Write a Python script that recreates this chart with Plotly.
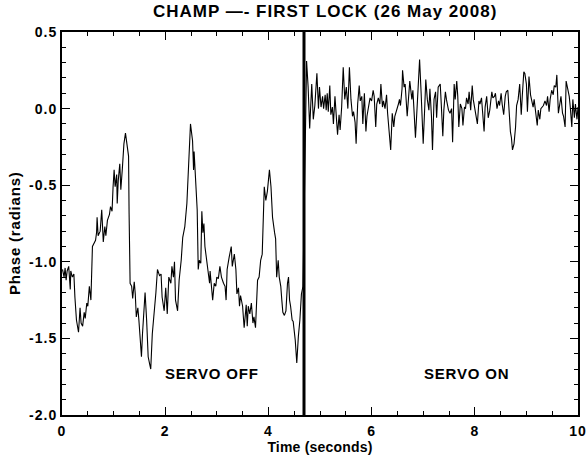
import plotly.graph_objects as go

# Phase record before the servo loop is closed (time in s, phase in rad)
t_off = [0.01, 0.04, 0.06, 0.08, 0.10, 0.13, 0.16, 0.17, 0.20, 0.23, 0.25, 0.28, 0.32, 0.35,
         0.37, 0.40, 0.43, 0.45, 0.48, 0.50, 0.53, 0.56, 0.59, 0.62, 0.65, 0.67, 0.68, 0.70,
         0.74, 0.77, 0.80, 0.83, 0.85, 0.88, 0.92, 0.94, 0.97, 0.99, 1.01, 1.03, 1.06, 1.07,
         1.09, 1.12, 1.14, 1.17, 1.20, 1.23, 1.25, 1.29, 1.30, 1.32, 1.35, 1.37, 1.40, 1.42,
         1.44, 1.47, 1.49, 1.51, 1.54, 1.56, 1.59, 1.61, 1.64, 1.67, 1.70, 1.72, 1.75, 1.78,
         1.82, 1.85, 1.89, 1.92, 1.94, 1.98, 2.01, 2.04, 2.07, 2.11, 2.13, 2.16, 2.18, 2.20,
         2.24, 2.27, 2.31, 2.34, 2.38, 2.42, 2.45, 2.49, 2.53, 2.55, 2.56, 2.59, 2.62, 2.64,
         2.66, 2.69, 2.71, 2.73, 2.75, 2.77, 2.80, 2.84, 2.86, 2.87, 2.90, 2.92, 2.95, 2.98,
         3.00, 3.03, 3.06, 3.09, 3.13, 3.16, 3.18, 3.20, 3.24, 3.28, 3.30, 3.34, 3.37, 3.39,
         3.42, 3.44, 3.46, 3.50, 3.53, 3.57, 3.59, 3.61, 3.64, 3.67, 3.70, 3.72, 3.75, 3.77,
         3.79, 3.82, 3.85, 3.88, 3.90, 3.92, 3.95, 3.98, 4.00, 4.02, 4.05, 4.08, 4.12, 4.14,
         4.16, 4.19, 4.21, 4.24, 4.26, 4.28, 4.31, 4.34, 4.37, 4.39, 4.41, 4.43, 4.46, 4.48,
         4.52, 4.55, 4.58, 4.61, 4.64, 4.67]
phase_off = [-1.05, -1.10, -1.04, -1.12, -1.06, -1.03, -1.18, -1.06, -1.10, -1.08, -1.23, -1.38, -1.46, -1.30,
             -1.40, -1.42, -1.33, -1.37, -1.27, -1.29, -1.16, -1.25, -0.90, -0.88, -0.86, -0.81, -0.71, -0.83,
             -0.80, -0.66, -0.87, -0.77, -0.83, -0.73, -0.69, -0.64, -0.67, -0.51, -0.40, -0.51, -0.43, -0.62,
             -0.47, -0.36, -0.53, -0.39, -0.23, -0.16, -0.21, -0.31, -0.68, -1.14, -1.16, -1.24, -1.13, -1.21,
             -1.36, -1.30, -1.38, -1.49, -1.62, -1.47, -1.29, -1.20, -1.38, -1.62, -1.67, -1.70, -1.47, -1.36,
             -1.20, -1.05, -1.09, -1.08, -1.23, -1.32, -1.17, -1.34, -1.10, -1.14, -1.03, -1.10, -1.00, -1.25,
             -1.32, -1.12, -0.99, -0.84, -0.77, -0.62, -0.34, -0.10, -0.21, -0.40, -0.28, -0.47, -0.66, -1.05,
             -0.99, -1.01, -0.67, -0.81, -0.75, -0.90, -0.97, -1.06, -1.14, -1.06, -1.18, -1.25, -1.14, -1.16,
             -1.10, -1.11, -1.03, -1.10, -1.14, -1.16, -1.25, -1.05, -0.97, -0.90, -1.03, -0.95, -1.05, -1.21,
             -1.17, -1.29, -1.22, -1.29, -1.43, -1.28, -1.42, -1.29, -1.34, -1.27, -1.40, -1.36, -1.43, -1.29,
             -1.12, -1.10, -0.99, -0.95, -0.62, -0.51, -0.60, -0.54, -0.47, -0.40, -0.51, -0.71, -0.81, -0.85,
             -1.10, -0.99, -1.10, -1.16, -1.25, -1.33, -1.35, -1.32, -1.14, -1.10, -1.25, -1.29, -1.38, -1.39,
             -1.51, -1.66, -1.49, -1.38, -1.21, -1.16]

# Phase record once the servo loop is locked
t_on = [4.74, 4.77, 4.80, 4.84, 4.87, 4.90, 4.94, 4.97, 4.99, 5.02, 5.05, 5.07, 5.10, 5.12,
        5.14, 5.16, 5.19, 5.21, 5.24, 5.26, 5.29, 5.31, 5.34, 5.37, 5.39, 5.42, 5.45, 5.48,
        5.51, 5.54, 5.57, 5.60, 5.63, 5.65, 5.68, 5.70, 5.73, 5.76, 5.78, 5.81, 5.83, 5.86,
        5.89, 5.91, 5.94, 5.97, 6.00, 6.03, 6.05, 6.08, 6.10, 6.13, 6.16, 6.18, 6.21, 6.23,
        6.26, 6.29, 6.31, 6.34, 6.37, 6.40, 6.43, 6.45, 6.49, 6.52, 6.54, 6.56, 6.59, 6.60,
        6.63, 6.65, 6.69, 6.72, 6.74, 6.78, 6.80, 6.82, 6.85, 6.89, 6.91, 6.93, 6.96, 6.98,
        7.00, 7.03, 7.05, 7.08, 7.11, 7.13, 7.16, 7.18, 7.21, 7.24, 7.26, 7.29, 7.33, 7.35,
        7.38, 7.40, 7.43, 7.45, 7.49, 7.52, 7.55, 7.57, 7.60, 7.62, 7.65, 7.67, 7.69, 7.72,
        7.75, 7.77, 7.80, 7.82, 7.84, 7.87, 7.89, 7.92, 7.95, 7.97, 8.00, 8.02, 8.05, 8.08,
        8.10, 8.13, 8.15, 8.18, 8.20, 8.23, 8.26, 8.29, 8.33, 8.35, 8.38, 8.40, 8.43, 8.46,
        8.48, 8.51, 8.53, 8.56, 8.59, 8.61, 8.64, 8.66, 8.69, 8.71, 8.73, 8.76, 8.79, 8.81,
        8.84, 8.87, 8.90, 8.92, 8.95, 8.97, 9.00, 9.02, 9.05, 9.08, 9.10, 9.13, 9.15, 9.18,
        9.21, 9.23, 9.26, 9.28, 9.31, 9.33, 9.36, 9.39, 9.41, 9.44, 9.46, 9.49, 9.52, 9.54,
        9.57, 9.59, 9.62, 9.64, 9.67, 9.70, 9.72, 9.75, 9.77, 9.80, 9.83, 9.85, 9.88, 9.90,
        9.93, 9.95, 9.98, 10.00]
phase_on = [0.31, 0.14, -0.13, 0.16, -0.07, 0.02, 0.23, 0.00, 0.14, 0.01, 0.08, 0.00, 0.09, -0.01,
            0.10, -0.02, 0.15, -0.04, 0.01, -0.10, 0.08, -0.05, -0.17, -0.04, -0.14, 0.01, 0.27, 0.06,
            0.14, 0.00, 0.27, 0.06, -0.05, -0.02, -0.09, -0.23, 0.03, 0.15, 0.05, 0.08, -0.10, 0.10,
            -0.15, -0.05, 0.00, 0.07, 0.05, 0.12, 0.08, -0.12, 0.03, 0.07, 0.03, 0.16, 0.01, 0.05,
            0.00, 0.09, -0.03, -0.14, -0.27, -0.03, -0.12, -0.05, -0.01, 0.03, 0.06, 0.02, 0.13, 0.25,
            0.14, 0.16, -0.05, 0.10, 0.18, 0.06, 0.12, 0.00, -0.19, 0.06, 0.21, 0.32, 0.10, -0.12,
            -0.23, 0.01, 0.19, 0.06, -0.01, 0.13, -0.05, -0.27, 0.06, 0.11, -0.06, 0.14, 0.16, 0.03,
            -0.18, -0.01, 0.11, 0.06, -0.01, -0.03, 0.00, -0.22, 0.16, 0.06, 0.18, 0.08, -0.12, 0.03,
            0.00, -0.11, 0.01, 0.00, 0.07, 0.03, 0.11, -0.01, 0.15, 0.06, 0.00, -0.03, -0.10, 0.05,
            0.03, 0.07, -0.04, -0.15, 0.01, 0.08, -0.06, -0.01, 0.11, 0.07, 0.08, 0.10, 0.00, 0.05,
            0.02, 0.10, 0.03, -0.04, 0.08, 0.11, 0.12, -0.01, -0.15, -0.19, -0.27, -0.23, -0.12, 0.02,
            0.06, 0.16, -0.04, 0.08, 0.24, 0.23, 0.16, -0.02, 0.21, 0.09, 0.06, 0.01, 0.06, -0.03,
            -0.11, -0.01, -0.07, 0.00, 0.01, 0.02, 0.05, 0.02, 0.08, -0.02, 0.06, 0.12, 0.09, 0.15,
            0.14, 0.22, -0.03, 0.02, 0.08, -0.03, -0.05, -0.12, 0.18, 0.13, 0.08, 0.01, -0.12, 0.06,
            -0.06, 0.03, -0.07, 0.01]

LOCK_TIME = 4.69  # instant the servo loop was closed

x_ticks = [0, 2, 4, 6, 8, 10]
y_ticks = [-2.0, -1.5, -1.0, -0.5, 0.0, 0.5]

FONT = "Liberation Sans, Arial, Helvetica, sans-serif"


def spaced(text, px=1.0):
    """Wrap text in a span with a little extra tracking between letters."""
    return f'<span style="letter-spacing:{px}px">{text}</span>'


def bold_font(size):
    return dict(family=FONT, size=size, color="black", weight="bold")


fig = go.Figure()
fig.add_trace(go.Scatter(
    x=t_off + t_on, y=phase_off + phase_on, mode="lines",
    line=dict(color="black", width=1.1), showlegend=False, hoverinfo="skip",
))

fig.add_shape(type="line", xref="x", yref="y domain", x0=LOCK_TIME, x1=LOCK_TIME, y0=0, y1=1,
              line=dict(color="black", width=3))

fig.add_annotation(x=2.91, y=-1.73, text=spaced("SERVO OFF", 0.8), showarrow=False,
                   font=bold_font(15))
fig.add_annotation(x=7.83, y=-1.73, text=spaced("SERVO ON", 0.8), showarrow=False,
                   font=bold_font(15))

# Vertical axis label, set slightly below the middle of the axis
fig.add_annotation(xref="paper", yref="paper", x=-0.093, y=0.475, xanchor="center", yanchor="middle",
                   text=spaced("Phase (radians)", 0.8), textangle=-90, showarrow=False,
                   font=bold_font(15))

axis_common = dict(
    showgrid=False, zeroline=False, showline=True, linecolor="black", linewidth=2,
    mirror="allticks", ticks="inside", ticklen=8, tickwidth=1.2, tickcolor="black",
    tickfont=bold_font(14), automargin=False,
)

fig.update_xaxes(
    range=[0, 10], tickvals=x_ticks, ticktext=[spaced(str(v)) for v in x_ticks],
    minor=dict(dtick=0.5, ticks="inside", ticklen=4, tickcolor="black", tickwidth=1.2),
    ticklabelstandoff=2,
    title=dict(text=spaced("Time (seconds)", 0.2), standoff=2, font=bold_font(14)),
    **axis_common,
)
fig.update_yaxes(
    range=[-2.0, 0.5], tickvals=y_ticks, ticktext=[spaced(f"{v:.1f}") for v in y_ticks],
    minor=dict(dtick=0.1, ticks="inside", ticklen=4, tickcolor="black", tickwidth=1.2),
    **axis_common,
)

fig.update_layout(
    width=588, height=459,
    margin=dict(l=62, r=10, t=32, b=44),
    paper_bgcolor="white", plot_bgcolor="white",
    title=dict(text=spaced("CHAMP —- FIRST LOCK (26 May 2008)", 1.0), x=0.553, xanchor="center",
               y=0.975, yanchor="middle", font=bold_font(17)),
)

fig.write_html("out.html")
